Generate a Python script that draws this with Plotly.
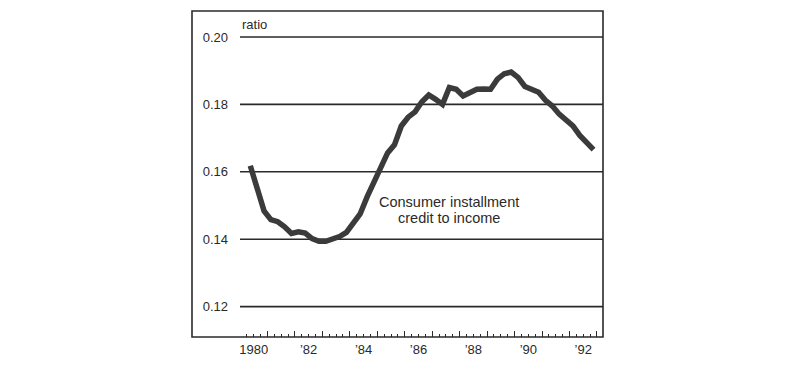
import plotly.graph_objects as go

# Quarterly observations, 1980Q2 .. 1992Q4
quarters = (["1980Q2", "1980Q3", "1980Q4"] +
            [f"{y}Q{q}" for y in range(1981, 1993) for q in range(1, 5)])
ratio = [
    0.1618, 0.1552, 0.1484,
    0.1458, 0.1452, 0.1437, 0.1417,
    0.1422, 0.1418, 0.1402, 0.1394,
    0.1394, 0.1400, 0.1408, 0.1420,
    0.1445, 0.1475, 0.1525, 0.1568,
    0.1617, 0.1656, 0.1680, 0.1736,
    0.1762, 0.1778, 0.1808, 0.1828,
    0.1815, 0.1800, 0.1850, 0.1845,
    0.1825, 0.1836, 0.1845, 0.1846,
    0.1845, 0.1875, 0.1891, 0.1896,
    0.1880, 0.1853, 0.1845, 0.1836,
    0.1812, 0.1795, 0.1771, 0.1754,
    0.1736, 0.1708, 0.1684, 0.1666,
]
y_ticks = [0.12, 0.14, 0.16, 0.18, 0.20]
y_tick_text = ["0.12", "0.14", "0.16", "0.18", "0.20"]
x_label_years = [1980, 1982, 1984, 1986, 1988, 1990, 1992]
x_label_text = ["1980", "\u201982", "\u201984", "\u201986", "\u201988", "\u201990", "\u201992"]

# mid-quarter decimal year positions
x_pos = [int(q[:4]) + (int(q[-1]) - 1) * 0.25 + 0.125 for q in quarters]

FONT = "Liberation Sans, Arial, Helvetica, sans-serif"
INK = "#2a2a2a"
XMIN, XMAX = 1980, 1993.22
YMIN, YMAX = 0.1110, 0.2077

fig = go.Figure()
fig.add_trace(go.Scatter(
    x=x_pos, y=ratio, mode="lines",
    line=dict(color="#3b3b3b", width=5.5),
    hoverinfo="skip", showlegend=False,
))
# invisible trace to activate the label axis
fig.add_trace(go.Scatter(x=[XMIN], y=[YMIN], xaxis="x2", mode="markers",
                         marker=dict(opacity=0), showlegend=False, hoverinfo="skip"))

shapes = []
for v in y_ticks:
    shapes.append(dict(type="line", xref="x", yref="y", x0=XMIN, x1=XMAX, y0=v, y1=v,
                       line=dict(color=INK, width=1.6), layer="below"))
# frame
frame_left = (192 - 240) / (603 - 240)
shapes.append(dict(type="rect", xref="paper", yref="paper", x0=frame_left, x1=1, y0=0, y1=1,
                   line=dict(color=INK, width=1.6), layer="above"))

fig.update_layout(
    width=800, height=370,
    margin=dict(l=232, r=205, t=3, b=41),
    paper_bgcolor="white", plot_bgcolor="white",
    font=dict(family=FONT, size=13, color=INK),
    shapes=shapes,
    xaxis=dict(
        range=[XMIN, XMAX], showgrid=False, zeroline=False, showline=False,
        tickmode="linear", tick0=1980, dtick=1, ticks="inside", ticklen=6,
        tickwidth=1.3, tickcolor=INK, showticklabels=False,
        minor=dict(tickmode="linear", tick0=1980, dtick=0.25, ticks="inside",
                   ticklen=3, tickwidth=1.1, tickcolor=INK, showgrid=False),
    ),
    xaxis2=dict(
        range=[XMIN, XMAX], overlaying="x", side="bottom", showgrid=False,
        zeroline=False, showline=False, ticks="", ticklabelstandoff=3,
        tickvals=[yr + 0.5 for yr in x_label_years], ticktext=x_label_text,
        tickfont=dict(size=13, color=INK),
    ),
    yaxis=dict(
        range=[YMIN, YMAX], showgrid=False, zeroline=False, showline=False,
        tickvals=y_ticks, ticktext=y_tick_text, ticks="", ticklabelstandoff=11,
        tickfont=dict(size=13, color=INK),
    ),
    annotations=[
        dict(text="ratio", x=XMIN, y=0.2038, xref="x", yref="y", xanchor="left",
             yanchor="middle", showarrow=False, font=dict(size=13, color=INK)),
        dict(text="Consumer installment", x=1987.6, y=0.1509, xref="x", yref="y",
             xanchor="center", yanchor="middle", showarrow=False,
             font=dict(size=14.5, color=INK)),
        dict(text="credit to income", x=1987.6, y=0.1464, xref="x", yref="y",
             xanchor="center", yanchor="middle", showarrow=False,
             font=dict(size=14.5, color=INK)),
    ],
)

fig.write_html("out.html")
